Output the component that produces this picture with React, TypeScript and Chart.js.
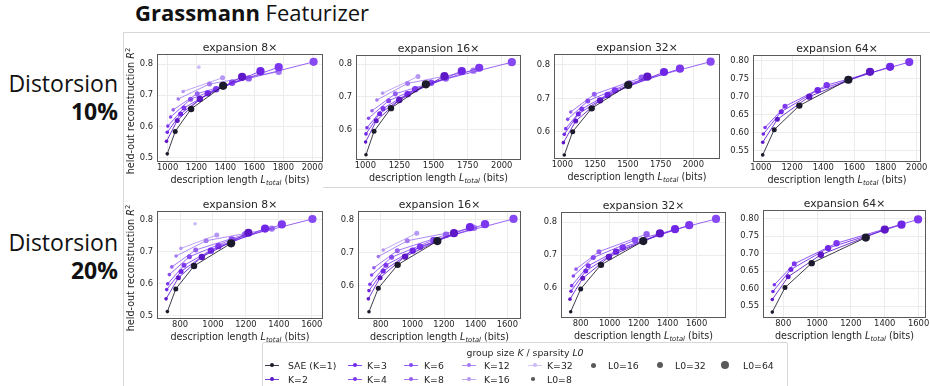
import React, { useEffect, useRef } from "react";
import { Chart, registerables } from "chart.js";

Chart.register(...registerables);
Chart.defaults.font.family = '"DejaVu Sans", sans-serif';

// ---------------- series ----------------
const GROUP_LABELS = ["SAE (K=1)", "K=2", "K=3", "K=4", "K=6", "K=8", "K=12", "K=16", "K=32"];
const L0_LEVELS = [8, 16, 32, 64];
const EXPANSIONS = ["expansion 8×", "expansion 16×", "expansion 32×", "expansion 64×"];
const DISTORTIONS = ["10%", "20%"];

// description length (bits) per group size, one entry per L0 level
const dl10x8 = [
  [998, 1053, 1163, 1384],
  [993, 1067, 1223, 1515],
  [998, 1090, 1278, 1642],
  [1002, 1113, 1336, 1768],
  [1021, 1159, 1446, 2009],
  [1039, 1205, 1561],
  [1074, 1290, 1768],
  [1108, 1380],
  [1216],
];
const r2_10x8 = [
  [0.512, 0.584, 0.656, 0.73],
  [0.552, 0.619, 0.688, 0.759],
  [0.581, 0.64, 0.706, 0.777],
  [0.601, 0.659, 0.719, 0.79],
  [0.63, 0.687, 0.74, 0.807],
  [0.653, 0.705, 0.754],
  [0.688, 0.736, 0.775],
  [0.712, 0.756],
  [0.79],
];

const dl10x16 = [
  [1005, 1064, 1188, 1444],
  [1002, 1080, 1249, 1580],
  [1005, 1105, 1310, 1707],
  [1012, 1130, 1366, 1835],
  [1024, 1171, 1483, 2074],
  [1049, 1220, 1590],
  [1085, 1310, 1793],
  [1127, 1386],
];
const r2_10x16 = [
  [0.522, 0.594, 0.665, 0.738],
  [0.561, 0.626, 0.69, 0.763],
  [0.586, 0.648, 0.708, 0.779],
  [0.605, 0.664, 0.723, 0.789],
  [0.634, 0.688, 0.743, 0.806],
  [0.657, 0.709, 0.756],
  [0.69, 0.741, 0.78],
  [0.711, 0.762],
];

const dl10x32 = [
  [1015, 1079, 1224, 1503],
  [1008, 1102, 1288, 1649],
  [1015, 1122, 1346, 1776],
  [1026, 1148, 1402, 1898],
  [1041, 1194, 1511, 2132],
  [1064, 1244, 1606],
];
const r2_10x32 = [
  [0.53, 0.6, 0.67, 0.74],
  [0.567, 0.632, 0.694, 0.765],
  [0.592, 0.653, 0.71, 0.779],
  [0.609, 0.668, 0.724, 0.789],
  [0.637, 0.692, 0.745, 0.81],
  [0.659, 0.712, 0.762],
];

const dl10x64 = [
  [1011, 1085, 1246, 1561],
  [1011, 1105, 1310, 1700],
  [1015, 1130, 1364, 1829],
  [1026, 1154, 1422, 1952],
];
const r2_10x64 = [
  [0.538, 0.608, 0.675, 0.747],
  [0.573, 0.637, 0.7, 0.769],
  [0.596, 0.658, 0.718, 0.783],
  [0.614, 0.673, 0.732, 0.796],
];

const dl20x8 = [
  [723, 774, 885, 1110],
  [715, 790, 932, 1215],
  [719, 806, 987, 1316],
  [725, 824, 1033, 1418],
  [735, 857, 1114, 1604],
  [750, 895, 1195],
  [776, 958, 1357],
  [805, 1023],
  [891],
];
const r2_20x8 = [
  [0.513, 0.584, 0.656, 0.727],
  [0.553, 0.619, 0.684, 0.76],
  [0.582, 0.639, 0.704, 0.773],
  [0.6, 0.658, 0.718, 0.786],
  [0.629, 0.685, 0.739, 0.803],
  [0.653, 0.706, 0.755],
  [0.687, 0.735, 0.773],
  [0.711, 0.753],
  [0.788],
];

const dl20x16 = [
  [726, 785, 907, 1158],
  [722, 796, 954, 1263],
  [726, 816, 1002, 1364],
  [732, 833, 1049, 1459],
  [743, 869, 1133, 1639],
  [757, 905, 1213],
  [785, 968, 1390],
  [816, 1028],
];
const r2_20x16 = [
  [0.522, 0.593, 0.664, 0.736],
  [0.561, 0.625, 0.689, 0.76],
  [0.586, 0.645, 0.707, 0.778],
  [0.605, 0.663, 0.719, 0.787],
  [0.633, 0.687, 0.739, 0.803],
  [0.655, 0.707, 0.755],
  [0.689, 0.737, 0.776],
  [0.709, 0.76],
];

const dl20x32 = [
  [731, 800, 940, 1232],
  [726, 814, 995, 1347],
  [733, 835, 1044, 1451],
  [738, 852, 1090, 1549],
  [749, 887, 1175, 1734],
  [768, 926, 1255],
];
const r2_20x32 = [
  [0.529, 0.598, 0.671, 0.743],
  [0.567, 0.63, 0.695, 0.766],
  [0.591, 0.652, 0.711, 0.779],
  [0.608, 0.668, 0.724, 0.791],
  [0.637, 0.693, 0.746, 0.81],
  [0.658, 0.711, 0.764],
];

const dl20x64 = [
  [735, 810, 968, 1288],
  [735, 829, 1022, 1400],
  [739, 845, 1065, 1499],
  [747, 865, 1115, 1597],
];
const r2_20x64 = [
  [0.533, 0.603, 0.673, 0.746],
  [0.569, 0.634, 0.697, 0.769],
  [0.592, 0.655, 0.716, 0.783],
  [0.611, 0.671, 0.73, 0.798],
];

// ---------------- tick labels ----------------
const X_TICKS_200 = [1000, 1200, 1400, 1600, 1800, 2000];
const X_TICKS_250 = [1000, 1250, 1500, 1750, 2000];
const X_TICKS_LOW = [800, 1000, 1200, 1400, 1600];
const Y_TICKS_WIDE = [0.5, 0.6, 0.7, 0.8];
const Y_TICKS_MID = [0.6, 0.7, 0.8];
const Y_TICKS_FINE = [0.55, 0.6, 0.65, 0.7, 0.75, 0.8];

// ---------------- styling ----------------
const GROUP_COLORS = ["#1b1a2c", "#5e17c6", "#6f26e6", "#7c37ef", "#8749f1", "#945ff1", "#a379f3", "#b597f5", "#ccb9f7"];
const L0_RADIUS = [1.8, 2.5, 3.2, 4.1];
const TEXT_COLOR = "#262626";
const FRAME_COLOR = "#d8d8d8";

type PanelSpec = {
  title: string;
  dl: number[][];
  r2: number[][];
  xTicks: number[];
  yTicks: number[];
  yDecimals: number;
  xRange: [number, number];
  yRange: [number, number];
  box: [number, number, number, number];
  yTitle: boolean;
};

const PANELS: PanelSpec[] = [
  { title: EXPANSIONS[0], dl: dl10x8, r2: r2_10x8, xTicks: X_TICKS_200, yTicks: Y_TICKS_WIDE, yDecimals: 1, xRange: [934, 2067], yRange: [0.489, 0.829], box: [158, 55, 322, 161], yTitle: true },
  { title: EXPANSIONS[1], dl: dl10x16, r2: r2_10x16, xTicks: X_TICKS_250, yTicks: Y_TICKS_MID, yDecimals: 1, xRange: [939, 2134], yRange: [0.509, 0.825], box: [357, 56, 520, 159], yTitle: false },
  { title: EXPANSIONS[2], dl: dl10x32, r2: r2_10x32, xTicks: X_TICKS_250, yTicks: Y_TICKS_MID, yDecimals: 1, xRange: [944, 2196], yRange: [0.521, 0.83], box: [555, 55, 719, 158], yTitle: false },
  { title: EXPANSIONS[3], dl: dl10x64, r2: r2_10x64, xTicks: X_TICKS_200, yTicks: Y_TICKS_FINE, yDecimals: 2, xRange: [955, 2021], yRange: [0.521, 0.813], box: [754, 56, 920, 161], yTitle: false },
  { title: EXPANSIONS[0], dl: dl20x8, r2: r2_20x8, xTicks: X_TICKS_LOW, yTicks: Y_TICKS_WIDE, yDecimals: 1, xRange: [666, 1662], yRange: [0.493, 0.825], box: [158, 212, 322, 318], yTitle: true },
  { title: EXPANSIONS[1], dl: dl20x16, r2: r2_20x16, xTicks: X_TICKS_LOW, yTicks: Y_TICKS_MID, yDecimals: 1, xRange: [663, 1680], yRange: [0.503, 0.824], box: [359, 212, 520, 318], yTitle: false },
  { title: EXPANSIONS[2], dl: dl20x32, r2: r2_20x32, xTicks: X_TICKS_LOW, yTicks: Y_TICKS_MID, yDecimals: 1, xRange: [671, 1796], yRange: [0.513, 0.828], box: [562, 213, 725, 317], yTitle: false },
  { title: EXPANSIONS[3], dl: dl20x64, r2: r2_20x64, xTicks: X_TICKS_LOW, yTicks: Y_TICKS_FINE, yDecimals: 2, xRange: [686, 1638], yRange: [0.519, 0.822], box: [764, 211, 925, 317], yTitle: false },
];

const PAD_L = 48;
const PAD_T = 20;
const PAD_R = 14;
const PAD_B = 36;

function withAlpha(hex: string, a: number) {
  const n = parseInt(hex.slice(1), 16);
  return `rgba(${(n >> 16) & 255},${(n >> 8) & 255},${n & 255},${a})`;
}

type Run = { text: string; size: number; italic?: boolean; shift?: number };

function measureRuns(ctx: CanvasRenderingContext2D, runs: Run[]) {
  let w = 0;
  for (const r of runs) {
    ctx.font = `${r.italic ? "italic " : ""}${r.size}px "DejaVu Sans"`;
    w += ctx.measureText(r.text).width;
  }
  return w;
}

function drawRuns(ctx: CanvasRenderingContext2D, runs: Run[], cx: number, baseline: number) {
  let x = cx - measureRuns(ctx, runs) / 2;
  ctx.textAlign = "left";
  ctx.textBaseline = "alphabetic";
  for (const r of runs) {
    ctx.font = `${r.italic ? "italic " : ""}${r.size}px "DejaVu Sans"`;
    ctx.fillText(r.text, x, baseline + (r.shift || 0));
    x += ctx.measureText(r.text).width;
  }
}

const X_TITLE: Run[] = [
  { text: "description length ", size: 9.6 },
  { text: "L", size: 9.6, italic: true },
  { text: "total", size: 6.8, italic: true, shift: 2 },
  { text: " (bits)", size: 9.6 },
];
const Y_TITLE: Run[] = [
  { text: "held-out reconstruction ", size: 9.6 },
  { text: "R", size: 9.6, italic: true },
  { text: "2", size: 6.8, shift: -4 },
];

const panelDecor = {
  id: "panelDecor",
  afterDraw(chart: any, _args: any, opts: any) {
    const { ctx, chartArea: a } = chart;
    ctx.save();
    ctx.strokeStyle = "#5a5a5a";
    ctx.lineWidth = 1;
    ctx.strokeRect(Math.round(a.left) - 0.5, Math.round(a.top) - 0.5, Math.round(a.width) + 1, Math.round(a.height) + 1);
    ctx.fillStyle = TEXT_COLOR;
    ctx.font = '10.8px "DejaVu Sans"';
    ctx.textAlign = "center";
    ctx.textBaseline = "alphabetic";
    ctx.fillText(opts.title, (a.left + a.right) / 2, a.top - 4);
    drawRuns(ctx, X_TITLE, (a.left + a.right) / 2, a.bottom + 22);
    if (opts.yTitle) {
      ctx.translate(a.left - 24, (a.top + a.bottom) / 2 + 3);
      ctx.rotate(-Math.PI / 2);
      drawRuns(ctx, Y_TITLE, 0, 0);
    }
    ctx.restore();
  },
};

function Panel({ spec }: { spec: PanelSpec }) {
  const ref = useRef<HTMLCanvasElement>(null);
  const [L, T, R, B] = spec.box;
  const w = R - L + PAD_L + PAD_R;
  const h = B - T + PAD_T + PAD_B;

  useEffect(() => {
    if (!ref.current) return;
    const datasets = spec.dl.map((xs, k) => ({
      label: GROUP_LABELS[k],
      data: xs.map((x, i) => ({ x, y: spec.r2[k][i] })),
      showLine: true,
      borderColor: withAlpha(GROUP_COLORS[k], 0.85),
      borderWidth: 1,
      backgroundColor: GROUP_COLORS[k],
      pointBackgroundColor: GROUP_COLORS[k],
      pointBorderWidth: 0,
      pointRadius: (c: any) => L0_RADIUS[c.dataIndex],
      tension: 0,
    }));
    const tickFont = { size: 8.4, family: '"DejaVu Sans"' };
    const chart = new Chart(ref.current, {
      type: "scatter",
      data: { datasets },
      options: {
        animation: false,
        responsive: false,
        events: [],
        layout: { padding: { left: 0, top: PAD_T, right: PAD_R, bottom: 0 } },
        plugins: {
          legend: { display: false },
          tooltip: { enabled: false },
          panelDecor: { title: spec.title, yTitle: spec.yTitle },
        } as any,
        scales: {
          x: {
            type: "linear",
            min: spec.xRange[0],
            max: spec.xRange[1],
            afterBuildTicks: (s: any) => {
              s.ticks = spec.xTicks.map((v) => ({ value: v }));
            },
            afterFit: (s: any) => {
              s.height = PAD_B;
            },
            ticks: { callback: (v: any) => String(v), padding: 2, font: tickFont, color: TEXT_COLOR, maxRotation: 0, autoSkip: false },
            grid: { color: "#ececec", drawTicks: false },
            border: { display: false },
          },
          y: {
            type: "linear",
            min: spec.yRange[0],
            max: spec.yRange[1],
            afterBuildTicks: (s: any) => {
              s.ticks = spec.yTicks.map((v) => ({ value: v }));
            },
            afterFit: (s: any) => {
              s.width = PAD_L;
            },
            ticks: { callback: (v: any) => Number(v).toFixed(spec.yDecimals), padding: 5, font: tickFont, color: TEXT_COLOR, autoSkip: false },
            grid: { color: "#ececec", drawTicks: false },
            border: { display: false },
          },
        },
      },
      plugins: [panelDecor],
    } as any);
    return () => chart.destroy();
  }, [spec]);

  return (
    <canvas
      ref={ref}
      width={w}
      height={h}
      style={{ position: "absolute", left: L - PAD_L, top: T - PAD_T, width: w, height: h }}
    />
  );
}

function LegendLine({ k, x, y }: { k: number; x: number; y: number }) {
  return (
    <>
      <div style={{ position: "absolute", left: x, top: y - 0.5, width: 14, height: 1, background: withAlpha(GROUP_COLORS[k], 0.85) }} />
      <div style={{ position: "absolute", left: x + 7 - 2.4, top: y - 2.4, width: 4.8, height: 4.8, borderRadius: "50%", background: GROUP_COLORS[k] }} />
    </>
  );
}

function LegendDot({ r, x, y }: { r: number; x: number; y: number }) {
  return <div style={{ position: "absolute", left: x - r, top: y - r, width: 2 * r, height: 2 * r, borderRadius: "50%", background: "#5a5a5a" }} />;
}

const legendText: React.CSSProperties = {
  position: "absolute",
  font: '9.3px "DejaVu Sans", sans-serif',
  color: TEXT_COLOR,
  whiteSpace: "nowrap",
  lineHeight: "11px",
};

function Legend() {
  const lineCols = [
    { x: 265, tx: 288, items: [0, 1] },
    { x: 348, tx: 367, items: [2, 3] },
    { x: 404, tx: 424, items: [4, 5] },
    { x: 462, tx: 484, items: [6, 7] },
    { x: 528, tx: 547, items: [8] },
  ];
  const rows = [365, 379];
  const dots = [
    { x: 533, tx: 547, row: 1, l: 0 },
    { x: 593, tx: 608, row: 0, l: 1 },
    { x: 660, tx: 675, row: 0, l: 2 },
    { x: 725, tx: 743, row: 0, l: 3 },
  ];
  return (
    <>
      <div style={{ position: "absolute", left: 262, top: 342, width: 524, height: 50, border: `1px solid ${FRAME_COLOR}`, borderRadius: 2 }} />
      <div style={{ ...legendText, left: 262, width: 526, top: 347, textAlign: "center" }}>
        group size <i>K</i> / sparsity <i>L0</i>
      </div>
      {lineCols.map((c) =>
        c.items.map((k, j) => (
          <React.Fragment key={k}>
            <LegendLine k={k} x={c.x} y={rows[j]} />
            <div style={{ ...legendText, left: c.tx, top: rows[j] - 5.5 }}>{GROUP_LABELS[k]}</div>
          </React.Fragment>
        ))
      )}
      {dots.map((d) => (
        <React.Fragment key={d.l}>
          <LegendDot r={L0_RADIUS[d.l]} x={d.x} y={rows[d.row]} />
          <div style={{ ...legendText, left: d.tx, top: rows[d.row] - 5.5 }}>{`L0=${L0_LEVELS[d.l]}`}</div>
        </React.Fragment>
      ))}
    </>
  );
}

const heading: React.CSSProperties = {
  position: "absolute",
  fontFamily: '"Open Sans", sans-serif',
  color: "#111",
  whiteSpace: "nowrap",
};

export default function App() {
  return (
    <div style={{ position: "absolute", left: 0, top: 0, width: 930, height: 386, overflow: "hidden", background: "#fff" }}>
      <div style={{ ...heading, left: 135, top: -3, fontSize: 22, lineHeight: "30px" }}>
        <b>Grassmann</b> Featurizer
      </div>
      {/* frame lines */}
      <div style={{ position: "absolute", left: 123, top: 32, width: 807, height: 1, background: FRAME_COLOR }} />
      <div style={{ position: "absolute", left: 123, top: 32, width: 1, height: 354, background: FRAME_COLOR }} />
      <div style={{ position: "absolute", left: 323, top: 187, width: 464, height: 1, background: FRAME_COLOR }} />

      {DISTORTIONS.map((d, i) => (
        <div key={d} style={{ ...heading, right: 930 - 118, top: 69 + i * 159, fontSize: 23, lineHeight: "28px", textAlign: "right" }}>
          Distorsion
          <br />
          <b>{d}</b>
        </div>
      ))}

      {PANELS.map((p, i) => (
        <Panel key={i} spec={p} />
      ))}
      <Legend />
    </div>
  );
}
